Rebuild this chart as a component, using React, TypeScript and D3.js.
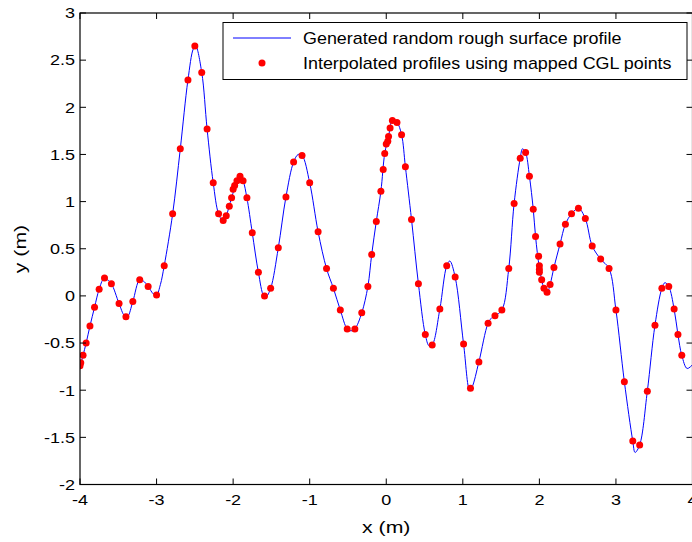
import React from "react";
import * as d3 from "d3";

// Generated random rough surface profile (x, y) knots
const profileX = [
  -4.0, -3.96, -3.92, -3.87, -3.81, -3.75, -3.69, -3.64, -3.59, -3.49, -3.42, -3.38, -3.31, -3.22, -3.16, -3.11,
  -3.04, -3.0, -2.95, -2.9, -2.79, -2.69, -2.59, -2.52, -2.49, -2.41, -2.34, -2.26, -2.19, -2.13, -2.09, -2.02,
  -1.95, -1.91, -1.87, -1.82, -1.75, -1.67, -1.6, -1.57, -1.51, -1.41, -1.31, -1.21, -1.15, -1.1, -1.0, -0.89,
  -0.78, -0.69, -0.6, -0.51, -0.46, -0.41, -0.32, -0.24, -0.19, -0.13, -0.07, -0.02, 0.03, 0.08, 0.14, 0.2,
  0.25, 0.33, 0.42, 0.51, 0.56, 0.6, 0.7, 0.79, 0.83, 0.9, 1.01, 1.09, 1.12, 1.21, 1.33, 1.38, 1.42, 1.51, 1.6,
  1.67, 1.75, 1.78, 1.82, 1.87, 1.92, 1.95, 2.0, 2.06, 2.1, 2.14, 2.19, 2.27, 2.34, 2.42, 2.51, 2.6, 2.69, 2.8,
  2.91, 3.0, 3.11, 3.22, 3.25, 3.31, 3.41, 3.51, 3.6, 3.64, 3.69, 3.76, 3.81, 3.86, 3.93, 4.0,
];
const profileY = [
  -0.75, -0.63, -0.5, -0.32, -0.12, 0.07, 0.18, 0.17, 0.13, -0.08, -0.21, -0.22, -0.06, 0.17, 0.15, 0.1,
  0.02, 0.01, 0.12, 0.32, 0.87, 1.56, 2.29, 2.62, 2.65, 2.37, 1.77, 1.2, 0.87, 0.79, 0.85, 1.04,
  1.22, 1.27, 1.22, 1.04, 0.67, 0.25, 0.0, -0.01, 0.08, 0.51, 1.05, 1.42, 1.5, 1.49, 1.2, 0.68,
  0.29, 0.08, -0.15, -0.35, -0.37, -0.35, -0.18, 0.1, 0.44, 0.79, 1.11, 1.51, 1.69, 1.86, 1.84, 1.71,
  1.37, 0.81, 0.13, -0.41, -0.53, -0.52, -0.14, 0.32, 0.37, 0.2, -0.51, -1.0, -0.97, -0.7, -0.29, -0.23, -0.21, -0.15, 0.29,
  0.98, 1.46, 1.56, 1.52, 1.27, 0.92, 0.63, 0.3, 0.08, 0.03, 0.12, 0.3, 0.55, 0.76, 0.87, 0.93, 0.82, 0.53, 0.39,
  0.29, -0.15, -0.91, -1.54, -1.66, -1.58, -1.01, -0.31, 0.08, 0.14, 0.1, -0.14, -0.41, -0.63, -0.77, -0.73,
];

// Interpolated profiles using mapped CGL points
const cglX = [
  -4.0, -3.99, -3.96, -3.92, -3.87, -3.81, -3.75, -3.68, -3.59, -3.49, -3.4, -3.31, -3.22, -3.11, -3.0, -2.9,
  -2.79, -2.69, -2.59, -2.5, -2.41, -2.34, -2.26, -2.19, -2.13, -2.09, -2.05, -2.02, -2.0, -1.98, -1.95, -1.91,
  -1.87, -1.82, -1.75, -1.67, -1.59, -1.51, -1.41, -1.31, -1.21, -1.1, -1.0, -0.89, -0.78, -0.69, -0.6, -0.51,
  -0.41, -0.32, -0.24, -0.19, -0.13, -0.07, -0.04, -0.02, 0.0, 0.02, 0.03, 0.05, 0.08, 0.14, 0.2, 0.25, 0.33,
  0.42, 0.51, 0.6, 0.7, 0.79, 0.9, 1.01, 1.1, 1.21, 1.33, 1.42, 1.51, 1.6, 1.67, 1.75, 1.82, 1.87, 1.92, 1.95,
  1.99, 2.0, 2.0, 2.0, 2.03, 2.06, 2.1, 2.14, 2.19, 2.27, 2.34, 2.42, 2.51, 2.6, 2.69, 2.8, 2.91, 3.0, 3.11,
  3.22, 3.31, 3.41, 3.51, 3.6, 3.69, 3.76, 3.81, 3.86,
];
const cglY = [
  -0.74, -0.71, -0.63, -0.5, -0.32, -0.12, 0.07, 0.19, 0.13, -0.08, -0.22, -0.06, 0.17, 0.1, 0.01, 0.32,
  0.87, 1.56, 2.29, 2.65, 2.37, 1.77, 1.2, 0.87, 0.8, 0.85, 0.95, 1.04, 1.13, 1.17, 1.22, 1.27,
  1.22, 1.04, 0.67, 0.25, 0.0, 0.08, 0.51, 1.05, 1.42, 1.49, 1.2, 0.68, 0.29, 0.08, -0.15, -0.35,
  -0.35, -0.18, 0.1, 0.44, 0.79, 1.11, 1.34, 1.51, 1.61, 1.64, 1.69, 1.78, 1.86, 1.84, 1.71, 1.37, 0.81,
  0.13, -0.41, -0.52, -0.14, 0.32, 0.2, -0.51, -0.98, -0.7, -0.29, -0.21, -0.15, 0.29, 0.98, 1.46, 1.52, 1.27, 0.92, 0.63,
  0.42, 0.32, 0.28, 0.25, 0.17, 0.08, 0.04, 0.12, 0.3, 0.55, 0.76, 0.87, 0.93, 0.82, 0.53, 0.39, 0.29, -0.15, -0.91,
  -1.54, -1.58, -1.01, -0.31, 0.08, 0.1, -0.14, -0.41, -0.63,
];

const xTicks = [-4, -3, -2, -1, 0, 1, 2, 3, 4];
const yTicks = [-2, -1.5, -1, -0.5, 0, 0.5, 1, 1.5, 2, 2.5, 3];
const xTickLabels = ["-4", "-3", "-2", "-1", "0", "1", "2", "3", "4"];
const yTickLabels = ["-2", "-1.5", "-1", "-0.5", "0", "0.5", "1", "1.5", "2", "2.5", "3"];
const legendLabels = ["Generated random rough surface profile", "Interpolated profiles using mapped CGL points"];
const xLabel = "x (m)";
const yLabel = "y (m)";

export default function App() {
  const W = 692, H = 542;
  const L = 80, R = 692.5, T = 13, B = 484.5;
  const x = d3.scaleLinear().domain([-4, 4]).range([L, R]);
  const y = d3.scaleLinear().domain([-2, 3]).range([B, T]);
  const profile = profileX.map((v, i) => [v, profileY[i]] as [number, number]);
  const line = d3
    .line<[number, number]>()
    .x((d) => x(d[0]))
    .y((d) => y(d[1]))
    .curve(d3.curveCatmullRom.alpha(0.5));
  const font = "Arial, 'Liberation Sans', Helvetica, sans-serif";
  const tickLen = 6;
  const sx = 1.2;
  return (
    <svg
      width={W}
      height={H}
      style={{ position: "absolute", left: 0, top: 0, background: "#fff" }}
      fontFamily={font}
    >
      <rect x={0} y={0} width={W} height={H} fill="#fff" />
      <defs>
        <clipPath id="plot">
          <rect x={L} y={T} width={R - L} height={B - T} />
        </clipPath>
      </defs>
      <g clipPath="url(#plot)">
        <path d={line(profile) || ""} fill="none" stroke="#0000ff" strokeWidth={1} />
        {cglX.map((v, i) => (
          <circle key={i} cx={x(v)} cy={y(cglY[i])} r={3.5} fill="#ff0000" />
        ))}
      </g>
      {/* axes box */}
      <rect x={L} y={T} width={R - L} height={B - T} fill="none" stroke="#000" strokeWidth={1.2} />
      {xTicks.map((t) => (
        <g key={"xt" + t}>
          <line x1={x(t)} x2={x(t)} y1={B} y2={B - tickLen} stroke="#000" />
          <line x1={x(t)} x2={x(t)} y1={T} y2={T + tickLen} stroke="#000" />
        </g>
      ))}
      {yTicks.map((t) => (
        <g key={"yt" + t}>
          <line x1={L} x2={L + tickLen} y1={y(t)} y2={y(t)} stroke="#000" />
          <line x1={R} x2={R - tickLen} y1={y(t)} y2={y(t)} stroke="#000" />
        </g>
      ))}
      {xTicks.map((t, i) => (
        <g key={"xl" + t} transform={`translate(${x(t)},${B + 20.5}) scale(${sx},1)`}>
          <text textAnchor="middle" fontSize={15} fill="#000">
            {xTickLabels[i]}
          </text>
        </g>
      ))}
      {yTicks.map((t, i) => (
        <g key={"yl" + t} transform={`translate(${L - 5},${y(t) + 5.3}) scale(${sx},1)`}>
          <text textAnchor="end" fontSize={15} fill="#000">
            {yTickLabels[i]}
          </text>
        </g>
      ))}
      <g transform={`translate(${(L + R) / 2},533) scale(1.25,1)`}>
        <text textAnchor="middle" fontSize={17} fill="#000">
          {xLabel}
        </text>
      </g>
      <g transform={`translate(26,249) rotate(-90) scale(1.25,1)`}>
        <text textAnchor="middle" fontSize={17} fill="#000">
          {yLabel}
        </text>
      </g>
      {/* legend */}
      <rect x={223} y={22.5} width={464} height={57} fill="#fff" stroke="#000" strokeWidth={1} />
      <line x1={233} x2={291} y1={38} y2={38} stroke="#0000ff" strokeWidth={1} />
      <circle cx={262} cy={63} r={3.5} fill="#ff0000" />
      <g transform={`translate(303,43.5) scale(1.12,1)`}>
        <text fontSize={16} fill="#000">
          {legendLabels[0]}
        </text>
      </g>
      <g transform={`translate(303,68.5) scale(1.12,1)`}>
        <text fontSize={16} fill="#000">
          {legendLabels[1]}
        </text>
      </g>
    </svg>
  );
}
